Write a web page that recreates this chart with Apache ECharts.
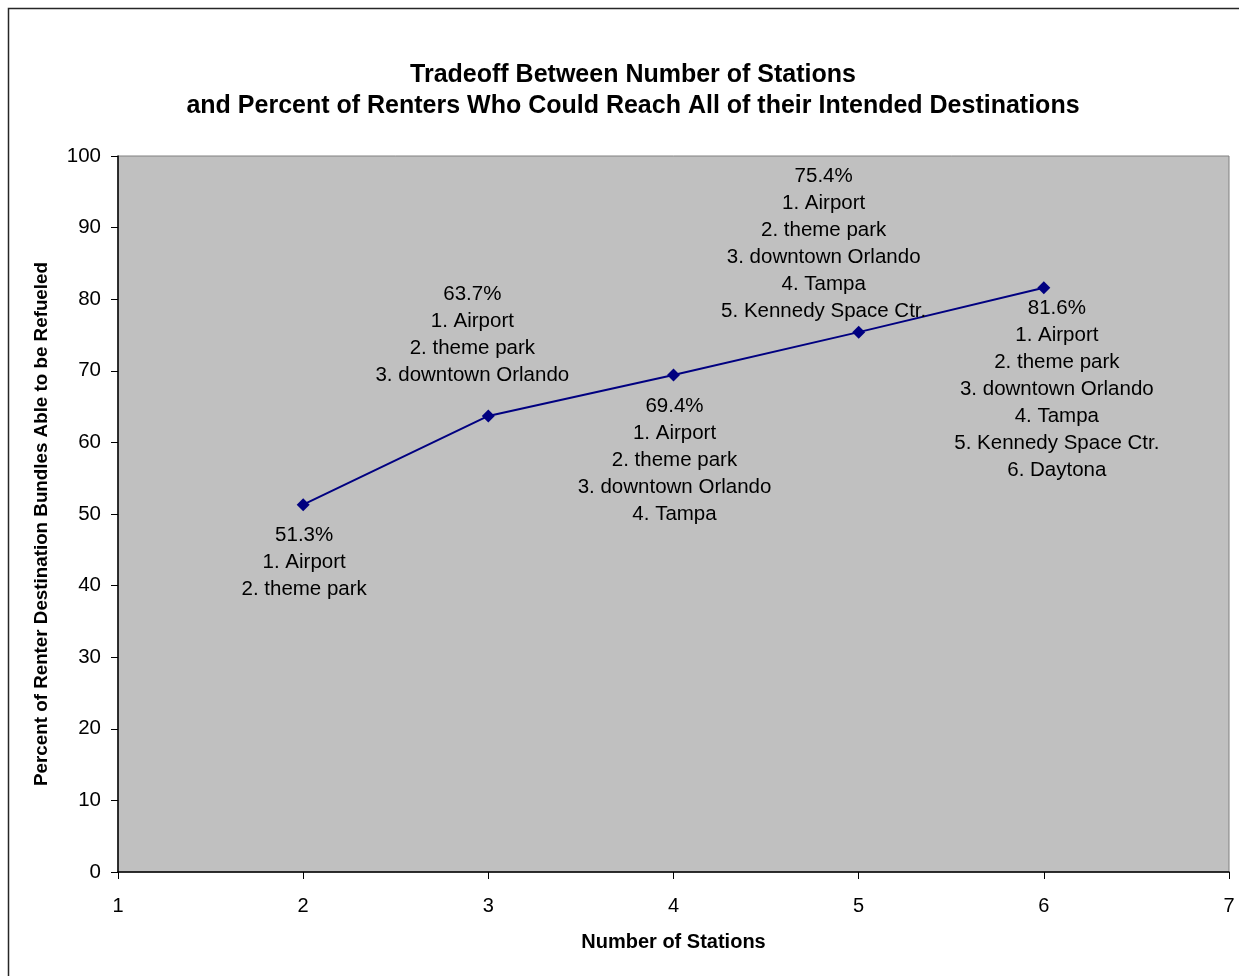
<!DOCTYPE html>
<html>
<head>
<meta charset="utf-8">
<title>Tradeoff Between Number of Stations</title>
<script src="https://cdn.jsdelivr.net/npm/echarts@6/dist/echarts.min.js"></script>
<style>
  html, body { margin: 0; padding: 0; background: #ffffff; }
  #chart { width: 1239px; height: 976px; }
</style>
</head>
<body>
<div id="chart"></div>
<script>
// Number of refueling stations and share of renter destination bundles covered
const stations = [2, 3, 4, 5, 6];
const percentRefueled = [51.3, 63.7, 69.4, 75.4, 81.6];
// Station sites, added one at a time
const stationSites = ['Airport', 'theme park', 'downtown Orlando', 'Tampa', 'Kennedy Space Ctr.', 'Daytona'];
// Where each point's note sits relative to the marker
const labelPlacement = [
  { position: 'bottom', offset: [1, 6] },
  { position: 'top', offset: [-16, -16] },
  { position: 'bottom', offset: [1, 6] },
  { position: 'top', offset: [-35, 4] },
  { position: 'bottom', offset: [13, -4] }
];
const xTicks = { min: 1, max: 7, interval: 1 };
const yTicks = { min: 0, max: 100, interval: 10 };

const FONT = "'Liberation Sans', Arial, Helvetica, sans-serif";

function noteFor(i) {
  const lines = [percentRefueled[i].toFixed(1) + '%'];
  for (let k = 0; k < stations[i]; k++) {
    lines.push((k + 1) + '. ' + stationSites[k]);
  }
  return lines.join('\n');
}

const seriesData = stations.map((s, i) => ({
  value: [s, percentRefueled[i]],
  label: {
    position: labelPlacement[i].position,
    offset: labelPlacement[i].offset
  }
}));

const chart = echarts.init(document.getElementById('chart'), null, { renderer: 'canvas' });

chart.setOption({
  animation: false,
  backgroundColor: '#ffffff',
  title: {
    text: 'Tradeoff Between Number of Stations\nand Percent of Renters Who Could Reach All of their Intended Destinations',
    left: 633,
    top: 60,
    padding: 0,
    textAlign: 'center',
    textStyle: {
      fontFamily: FONT,
      fontSize: 25,
      fontWeight: 'bold',
      color: '#000000',
      lineHeight: 31
    }
  },
  grid: {
    left: 118,
    top: 156,
    right: 10,
    bottom: 104,
    show: true,
    backgroundColor: '#c0c0c0',
    borderColor: '#808080',
    borderWidth: 1
  },
  graphic: [
    {
      type: 'rect',
      shape: { x: 8.5, y: 8.5, width: 1300, height: 1100 },
      style: { fill: 'none', stroke: '#262626', lineWidth: 1.5 },
      silent: true,
      z: -1
    },
    {
      type: 'text',
      x: 42,
      y: 524,
      rotation: Math.PI / 2,
      style: {
        text: 'Percent of Renter Destination Bundles Able to be Refueled',
        align: 'center',
        verticalAlign: 'middle',
        font: 'bold 18.8px ' + FONT,
        fill: '#000000'
      }
    }
  ],
  xAxis: {
    type: 'value',
    min: xTicks.min,
    max: xTicks.max,
    interval: xTicks.interval,
    name: 'Number of Stations',
    nameLocation: 'middle',
    nameGap: 60,
    nameTextStyle: {
      fontFamily: FONT,
      fontSize: 20,
      fontWeight: 'bold',
      color: '#000000'
    },
    axisLine: { show: true, onZero: false, lineStyle: { color: '#000000', width: 1.5 } },
    axisTick: { show: true, inside: false, length: 7, lineStyle: { color: '#000000', width: 1 } },
    axisLabel: { fontFamily: FONT, fontSize: 20, color: '#000000', margin: 24 },
    splitLine: { show: false }
  },
  yAxis: {
    type: 'value',
    min: yTicks.min,
    max: yTicks.max,
    interval: yTicks.interval,
    axisLine: { show: true, onZero: false, lineStyle: { color: '#000000', width: 1.5 } },
    axisTick: { show: true, inside: false, length: 7, lineStyle: { color: '#000000', width: 1 } },
    axisLabel: { fontFamily: FONT, fontSize: 20.5, color: '#000000', margin: 17 },
    splitLine: { show: false }
  },
  series: [
    {
      type: 'line',
      data: seriesData,
      symbol: 'diamond',
      symbolSize: 13,
      lineStyle: { color: '#000080', width: 2 },
      itemStyle: { color: '#000080' },
      label: {
        show: true,
        distance: 5,
        formatter: p => noteFor(p.dataIndex),
        fontFamily: FONT,
        fontSize: 20.5,
        lineHeight: 27,
        color: '#000000',
        align: 'center'
      },
      emphasis: { disabled: true }
    }
  ]
});
</script>
</body>
</html>
